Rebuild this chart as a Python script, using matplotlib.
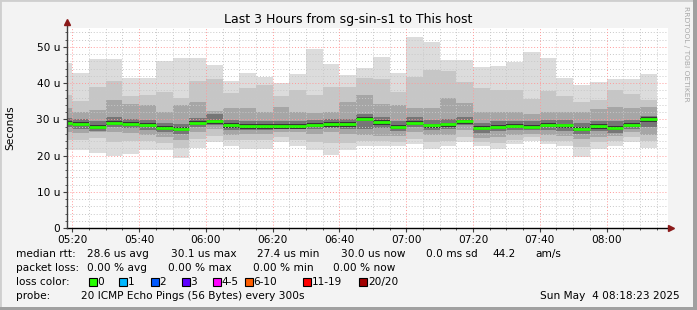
import numpy as np
import matplotlib
matplotlib.use("Agg")
import matplotlib.pyplot as plt
from matplotlib.patches import Rectangle

# smoke values per 5 minute slot (microseconds), first slot is partial
max_ = [45.5, 42.9, 46.7, 46.7, 41.5, 41.5, 46.1, 47.0, 47.0, 45.0, 40.6, 42.9,
        41.8, 40.1, 42.5, 49.4, 45.3, 42.3, 44.1, 47.2, 42.9, 52.8, 51.2, 46.3,
        46.3, 44.5, 44.8, 45.9, 48.6, 47.0, 41.5, 39.5, 40.3, 41.0, 41.0, 42.5]
hi2 = [36.7, 35.1, 39.0, 40.6, 36.5, 36.7, 37.4, 35.8, 40.6, 41.0, 37.2, 38.6,
       39.5, 36.3, 38.1, 36.7, 39.0, 39.0, 41.3, 41.2, 37.4, 41.8, 43.5, 43.2,
       40.4, 38.6, 38.1, 38.1, 35.7, 37.7, 36.3, 34.9, 35.4, 38.1, 37.0, 35.4]
hi3 = [33.0, 32.1, 32.6, 35.4, 34.3, 34.0, 32.1, 34.0, 34.9, 32.3, 33.1, 33.1,
       32.1, 33.5, 32.1, 31.7, 32.1, 34.9, 36.7, 34.3, 34.0, 33.1, 33.1, 35.8,
       34.6, 32.1, 32.1, 32.1, 31.5, 32.1, 32.1, 32.1, 32.8, 33.5, 33.1, 33.5]
hi4 = [30.4, 30.0, 29.4, 30.5, 30.2, 29.8, 29.1, 28.8, 30.4, 31.5, 29.8, 29.5,
       29.6, 29.4, 29.5, 29.9, 30.0, 30.2, 31.4, 30.6, 29.5, 30.5, 29.8, 30.0,
       30.7, 29.1, 29.5, 29.5, 29.4, 29.8, 29.8, 28.9, 29.4, 29.4, 29.9, 31.0]
median = [29.1, 28.8, 28.0, 29.1, 28.8, 28.5, 27.7, 27.4, 29.1, 29.4, 28.4, 28.1,
          28.1, 28.1, 28.1, 28.5, 28.7, 28.7, 30.1, 29.2, 28.0, 29.1, 28.3, 28.6,
          29.4, 27.7, 28.0, 28.2, 28.0, 28.5, 28.3, 27.4, 28.1, 27.7, 28.5, 30.0]
lo4 = [27.8, 27.4, 26.9, 27.9, 27.5, 27.0, 26.4, 25.9, 27.9, 28.3, 27.1, 27.0,
       27.0, 27.2, 27.2, 27.2, 27.5, 27.3, 27.4, 27.5, 26.7, 27.8, 27.0, 27.2,
       28.3, 26.3, 26.7, 27.0, 27.0, 27.1, 26.9, 25.9, 26.8, 26.3, 27.4, 27.8]
lo3 = [26.5, 26.2, 26.6, 26.6, 26.2, 25.7, 25.2, 24.3, 26.6, 27.2, 25.7, 26.0,
       26.0, 26.6, 26.6, 26.0, 26.6, 26.0, 25.7, 25.4, 25.4, 26.4, 25.6, 25.7,
       27.0, 24.8, 25.2, 25.6, 26.0, 25.7, 25.4, 24.6, 25.2, 25.3, 26.4, 25.7]
lo2 = [24.3, 24.3, 24.8, 23.8, 24.0, 24.0, 23.4, 22.0, 24.6, 25.3, 24.3, 24.3,
       24.3, 25.0, 24.3, 23.8, 23.4, 23.5, 24.0, 24.0, 23.8, 24.5, 23.8, 24.0,
       25.2, 23.8, 23.5, 24.2, 25.0, 24.0, 24.0, 22.4, 23.8, 24.0, 25.0, 24.0]
min_ = [21.5, 21.5, 20.8, 20.0, 20.5, 21.5, 21.4, 19.2, 22.0, 23.8, 22.5, 21.8,
        21.8, 23.8, 22.5, 21.5, 20.2, 21.5, 22.7, 22.7, 22.5, 23.1, 21.9, 22.7,
        23.8, 22.7, 21.9, 23.1, 24.0, 23.1, 22.7, 19.7, 21.9, 22.7, 23.7, 22.2]

xtick_labels = ["05:20", "05:40", "06:00", "06:20", "06:40", "07:00", "07:20", "07:40", "08:00"]
ytick_labels = ["0", "10 u", "20 u", "30 u", "40 u", "50 u"]

loss_labels = ["0", "1", "2", "3", "4-5", "6-10", "11-19", "20/20"]
loss_colors = ["#26ff00", "#00b8ff", "#0059ff", "#5e00ff", "#ff00ff", "#ff5e00", "#ff0000", "#a10000"]

title = "Last 3 Hours from sg-sin-s1 to This host"

# minutes after 05:00
t0 = 18.4
t1 = 198.4
edges = np.concatenate([[t0], np.arange(20, 200, 5)])
left = edges[:-1]
width = np.diff(edges)

W, H = 697, 310
fig = plt.figure(figsize=(W / 100, H / 100), dpi=100)
fig.patch.set_facecolor("#f3f3f3")

# 3d-ish frame
fig.patches.append(Rectangle((0, 0), 1, 1, transform=fig.transFigure, fill=False,
                             edgecolor="#cfcfcf", lw=2))
fig.patches.append(Rectangle((693 / W, 0), 4 / W, 1, transform=fig.transFigure,
                             color="#a0a0a0", lw=0))
fig.patches.append(Rectangle((0, 0), 1, 3 / H, transform=fig.transFigure,
                             color="#a0a0a0", lw=0))

ax = fig.add_axes([67 / W, (H - 228) / H, (668 - 67) / W, 200 / H])
ax.set_facecolor("white")
ax.set_xlim(t0, t1)
ax.set_ylim(0, 55.2)

bands = [(min_, max_, "#dcdcdc"), (lo2, hi2, "#c6c6c6"), (lo3, hi3, "#a6a6a6"),
         (lo4, hi4, "#767676")]
for lo, hi, c in bands:
    lo = np.array(lo)
    hi = np.array(hi)
    ax.bar(left, hi - lo, bottom=lo, width=width, align="edge", color=c, lw=0, zorder=1)
med = np.array(median)
ax.bar(left, 1.2, bottom=med - 0.7, width=width, align="edge", color="#383838", lw=0, zorder=1.5)

# grid
for v in np.arange(2, 55, 2):
    col = "#ff9a9a" if v % 10 == 0 else "#c8c8c8"
    ax.axhline(v, color=col, lw=0.7, ls=(0, (1, 2)), zorder=2)
for m in np.arange(20, 198, 5):
    col = "#ff9a9a" if m % 20 == 0 else "#c8c8c8"
    ax.axvline(m, color=col, lw=0.7, ls=(0, (1, 2)), zorder=2)

ax.hlines(med, left, left + width, color="#26ff00", lw=2.0, zorder=3)

for s in ax.spines.values():
    s.set_visible(False)
ax.plot([t0, t1 + 1.0], [0, 0], color="black", lw=1, clip_on=False, zorder=4)
ax.plot([t0, t0], [0, 56.5], color="#404040", lw=1, clip_on=False, zorder=4)
ax.plot([t1 + 1.0], [0], marker=">", color="#8b1a1a", ms=4.5, clip_on=False, zorder=5)
ax.plot([t0], [56.8], marker="^", color="#8b1a1a", ms=4.5, clip_on=False, zorder=5)

ax.set_xticks(np.arange(20, 181, 20))
ax.set_xticklabels(xtick_labels)
ax.set_xticks(np.arange(25, 198, 5), minor=True)
ax.set_yticks(np.arange(0, 51, 10))
ax.set_yticklabels(ytick_labels)
ax.set_yticks(np.arange(2, 55, 2), minor=True)
ax.tick_params(which="major", length=3, width=0.8, color="#404040", labelsize=7.6, pad=2)
ax.tick_params(which="minor", length=1.5, width=0.6, color="#404040")

fig.text(348 / W, 1 - 19 / H, title, ha="center", va="center", fontsize=9)
fig.text(10 / W, 1 - 128 / H, "Seconds", rotation=90, ha="center", va="center", fontsize=7.6)
fig.text(686 / W, 1 - 6 / H, "RRDTOOL / TOBI OETIKER", rotation=270, ha="center", va="top",
         fontsize=5.4, color="#a8a8a8")

fs = 7.6
def put(x, y, s):
    fig.text(x / W, 1 - y / H, s, ha="left", va="center", fontsize=fs)

put(16, 254, "median rtt:")
for x, s in zip([87, 171, 257, 341, 426, 492, 535],
                ["28.6 us avg", "30.1 us max", "27.4 us min", "30.0 us now", "0.0 ms sd", "44.2", "am/s"]):
    put(x, 254, s)
put(16, 268, "packet loss:")
for x, s in zip([87, 168, 253, 333], ["0.00 % avg", "0.00 % max", "0.00 % min", "0.00 % now"]):
    put(x, 268, s)
put(16, 282, "loss color:")
box_x = [88.7, 119.3, 150.7, 181.7, 212.7, 245, 303.3, 359.3]
for bx, lab, c in zip(box_x, loss_labels, loss_colors):
    fig.patches.append(Rectangle((bx / W, 1 - 286 / H), 8 / W, 8 / H, transform=fig.transFigure,
                                 facecolor=c, edgecolor="black", lw=0.8))
    put(bx + 8.5, 282, lab)
put(16, 296, "probe:")
put(80.7, 296, "20 ICMP Echo Pings (56 Bytes) every 300s")
fig.text(680 / W, 1 - 296 / H, "Sun May  4 08:18:23 2025", ha="right", va="center", fontsize=fs)

fig.savefig("out.png", dpi=100)
